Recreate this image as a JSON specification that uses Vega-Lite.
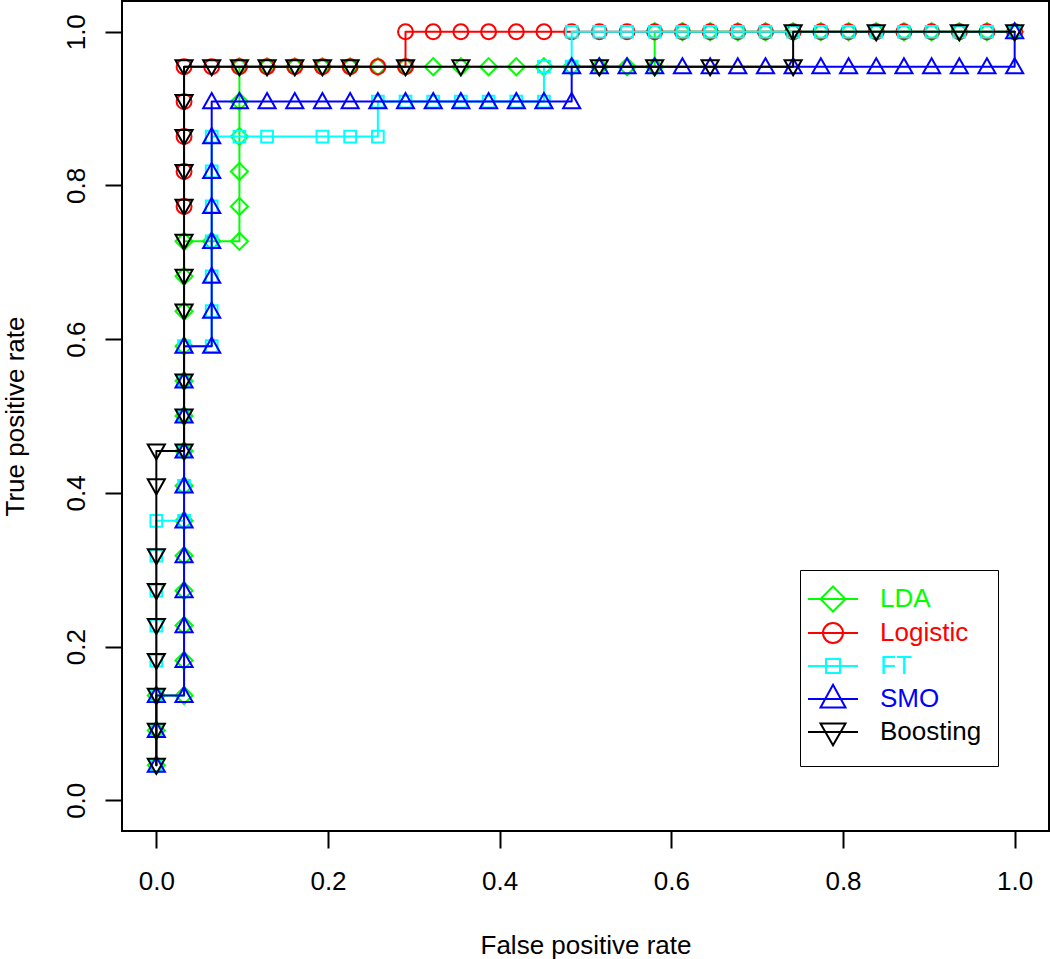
{
  "$schema": "https://vega.github.io/schema/vega-lite/v6.json",
  "width": 927,
  "height": 830,
  "autosize": {"type": "none"},
  "padding": {"left": 122, "top": 1, "right": 1, "bottom": 128},
  "background": "white",
  "config": {"view": {"stroke": "black", "strokeWidth": 2}, "font": "Liberation Sans"},
  "data": {"values": [
    {"m":"LDA","x":0,"y":0.0455},{"m":"LDA","x":0,"y":0.0909},{"m":"LDA","x":0,"y":0.1364},
    {"m":"LDA","x":0.0323,"y":0.1364},{"m":"LDA","x":0.0323,"y":0.1818},{"m":"LDA","x":0.0323,"y":0.2273},{"m":"LDA","x":0.0323,"y":0.2727},{"m":"LDA","x":0.0323,"y":0.3182},{"m":"LDA","x":0.0323,"y":0.3636},{"m":"LDA","x":0.0323,"y":0.4091},{"m":"LDA","x":0.0323,"y":0.4545},{"m":"LDA","x":0.0323,"y":0.5},{"m":"LDA","x":0.0323,"y":0.5455},{"m":"LDA","x":0.0323,"y":0.5909},{"m":"LDA","x":0.0323,"y":0.6364},{"m":"LDA","x":0.0323,"y":0.6818},{"m":"LDA","x":0.0323,"y":0.7273},
    {"m":"LDA","x":0.0645,"y":0.7273},{"m":"LDA","x":0.0968,"y":0.7273},
    {"m":"LDA","x":0.0968,"y":0.7727},{"m":"LDA","x":0.0968,"y":0.8182},{"m":"LDA","x":0.0968,"y":0.8636},{"m":"LDA","x":0.0968,"y":0.9091},{"m":"LDA","x":0.0968,"y":0.9545},
    {"m":"LDA","x":0.129,"y":0.9545},{"m":"LDA","x":0.1613,"y":0.9545},{"m":"LDA","x":0.1935,"y":0.9545},{"m":"LDA","x":0.2258,"y":0.9545},{"m":"LDA","x":0.2581,"y":0.9545},{"m":"LDA","x":0.2903,"y":0.9545},{"m":"LDA","x":0.3226,"y":0.9545},{"m":"LDA","x":0.3548,"y":0.9545},{"m":"LDA","x":0.3871,"y":0.9545},{"m":"LDA","x":0.4194,"y":0.9545},{"m":"LDA","x":0.4516,"y":0.9545},{"m":"LDA","x":0.4839,"y":0.9545},{"m":"LDA","x":0.5161,"y":0.9545},{"m":"LDA","x":0.5484,"y":0.9545},{"m":"LDA","x":0.5806,"y":0.9545},
    {"m":"LDA","x":0.5806,"y":1},{"m":"LDA","x":0.6129,"y":1},{"m":"LDA","x":0.6452,"y":1},{"m":"LDA","x":0.6774,"y":1},{"m":"LDA","x":0.7097,"y":1},{"m":"LDA","x":0.7419,"y":1},{"m":"LDA","x":0.7742,"y":1},{"m":"LDA","x":0.8065,"y":1},{"m":"LDA","x":0.8387,"y":1},{"m":"LDA","x":0.871,"y":1},{"m":"LDA","x":0.9032,"y":1},{"m":"LDA","x":0.9355,"y":1},{"m":"LDA","x":0.9677,"y":1},{"m":"LDA","x":1,"y":1},

    {"m":"Logistic","x":0.0323,"y":0.7727},{"m":"Logistic","x":0.0323,"y":0.8182},{"m":"Logistic","x":0.0323,"y":0.8636},{"m":"Logistic","x":0.0323,"y":0.9091},{"m":"Logistic","x":0.0323,"y":0.9545},
    {"m":"Logistic","x":0.0645,"y":0.9545},{"m":"Logistic","x":0.0968,"y":0.9545},{"m":"Logistic","x":0.129,"y":0.9545},{"m":"Logistic","x":0.1613,"y":0.9545},{"m":"Logistic","x":0.1935,"y":0.9545},{"m":"Logistic","x":0.2258,"y":0.9545},{"m":"Logistic","x":0.2581,"y":0.9545},{"m":"Logistic","x":0.2903,"y":0.9545},
    {"m":"Logistic","x":0.2903,"y":1},{"m":"Logistic","x":0.3226,"y":1},{"m":"Logistic","x":0.3548,"y":1},{"m":"Logistic","x":0.3871,"y":1},{"m":"Logistic","x":0.4194,"y":1},{"m":"Logistic","x":0.4516,"y":1},{"m":"Logistic","x":0.4839,"y":1},{"m":"Logistic","x":0.5161,"y":1},{"m":"Logistic","x":0.5484,"y":1},{"m":"Logistic","x":0.5806,"y":1},{"m":"Logistic","x":0.6129,"y":1},{"m":"Logistic","x":0.6452,"y":1},{"m":"Logistic","x":0.6774,"y":1},{"m":"Logistic","x":0.7097,"y":1},{"m":"Logistic","x":0.7419,"y":1},{"m":"Logistic","x":0.7742,"y":1},{"m":"Logistic","x":0.8065,"y":1},{"m":"Logistic","x":0.8387,"y":1},{"m":"Logistic","x":0.871,"y":1},{"m":"Logistic","x":0.9032,"y":1},{"m":"Logistic","x":0.9355,"y":1},{"m":"Logistic","x":0.9677,"y":1},{"m":"Logistic","x":1,"y":1},

    {"m":"FT","x":0,"y":0.0455},{"m":"FT","x":0,"y":0.0909},{"m":"FT","x":0,"y":0.1364},{"m":"FT","x":0,"y":0.1818},{"m":"FT","x":0,"y":0.2273},{"m":"FT","x":0,"y":0.2727},{"m":"FT","x":0,"y":0.3182},{"m":"FT","x":0,"y":0.3636},
    {"m":"FT","x":0.0323,"y":0.3636},{"m":"FT","x":0.0323,"y":0.4091},{"m":"FT","x":0.0323,"y":0.4545},{"m":"FT","x":0.0323,"y":0.5},{"m":"FT","x":0.0323,"y":0.5455},{"m":"FT","x":0.0323,"y":0.5909},
    {"m":"FT","x":0.0645,"y":0.5909},{"m":"FT","x":0.0645,"y":0.6364},{"m":"FT","x":0.0645,"y":0.6818},{"m":"FT","x":0.0645,"y":0.7273},{"m":"FT","x":0.0645,"y":0.7727},{"m":"FT","x":0.0645,"y":0.8182},{"m":"FT","x":0.0645,"y":0.8636},
    {"m":"FT","x":0.0968,"y":0.8636},{"m":"FT","x":0.129,"y":0.8636},{"m":"FT","x":0.1935,"y":0.8636},{"m":"FT","x":0.2258,"y":0.8636},{"m":"FT","x":0.2581,"y":0.8636},
    {"m":"FT","x":0.2581,"y":0.9091},{"m":"FT","x":0.2903,"y":0.9091},{"m":"FT","x":0.3226,"y":0.9091},{"m":"FT","x":0.3548,"y":0.9091},{"m":"FT","x":0.3871,"y":0.9091},{"m":"FT","x":0.4194,"y":0.9091},{"m":"FT","x":0.4516,"y":0.9091},
    {"m":"FT","x":0.4516,"y":0.9545},{"m":"FT","x":0.4839,"y":0.9545},
    {"m":"FT","x":0.4839,"y":1},{"m":"FT","x":0.5161,"y":1},{"m":"FT","x":0.5484,"y":1},{"m":"FT","x":0.5806,"y":1},{"m":"FT","x":0.6129,"y":1},{"m":"FT","x":0.6452,"y":1},{"m":"FT","x":0.6774,"y":1},{"m":"FT","x":0.7097,"y":1},{"m":"FT","x":0.7419,"y":1},{"m":"FT","x":0.7742,"y":1},{"m":"FT","x":0.8065,"y":1},{"m":"FT","x":0.8387,"y":1},{"m":"FT","x":0.871,"y":1},{"m":"FT","x":0.9032,"y":1},{"m":"FT","x":0.9355,"y":1},{"m":"FT","x":0.9677,"y":1},{"m":"FT","x":1,"y":1},

    {"m":"SMO","x":0,"y":0.0455},{"m":"SMO","x":0,"y":0.0909},{"m":"SMO","x":0,"y":0.1364},
    {"m":"SMO","x":0.0323,"y":0.1364},{"m":"SMO","x":0.0323,"y":0.1818},{"m":"SMO","x":0.0323,"y":0.2273},{"m":"SMO","x":0.0323,"y":0.2727},{"m":"SMO","x":0.0323,"y":0.3182},{"m":"SMO","x":0.0323,"y":0.3636},{"m":"SMO","x":0.0323,"y":0.4091},{"m":"SMO","x":0.0323,"y":0.4545},{"m":"SMO","x":0.0323,"y":0.5},{"m":"SMO","x":0.0323,"y":0.5455},{"m":"SMO","x":0.0323,"y":0.5909},
    {"m":"SMO","x":0.0645,"y":0.5909},{"m":"SMO","x":0.0645,"y":0.6364},{"m":"SMO","x":0.0645,"y":0.6818},{"m":"SMO","x":0.0645,"y":0.7273},{"m":"SMO","x":0.0645,"y":0.7727},{"m":"SMO","x":0.0645,"y":0.8182},{"m":"SMO","x":0.0645,"y":0.8636},{"m":"SMO","x":0.0645,"y":0.9091},
    {"m":"SMO","x":0.0968,"y":0.9091},{"m":"SMO","x":0.129,"y":0.9091},{"m":"SMO","x":0.1613,"y":0.9091},{"m":"SMO","x":0.1935,"y":0.9091},{"m":"SMO","x":0.2258,"y":0.9091},{"m":"SMO","x":0.2581,"y":0.9091},{"m":"SMO","x":0.2903,"y":0.9091},{"m":"SMO","x":0.3226,"y":0.9091},{"m":"SMO","x":0.3548,"y":0.9091},{"m":"SMO","x":0.3871,"y":0.9091},{"m":"SMO","x":0.4194,"y":0.9091},{"m":"SMO","x":0.4516,"y":0.9091},{"m":"SMO","x":0.4839,"y":0.9091},
    {"m":"SMO","x":0.4839,"y":0.9545},{"m":"SMO","x":0.5161,"y":0.9545},{"m":"SMO","x":0.5484,"y":0.9545},{"m":"SMO","x":0.5806,"y":0.9545},{"m":"SMO","x":0.6129,"y":0.9545},{"m":"SMO","x":0.6452,"y":0.9545},{"m":"SMO","x":0.6774,"y":0.9545},{"m":"SMO","x":0.7097,"y":0.9545},{"m":"SMO","x":0.7419,"y":0.9545},{"m":"SMO","x":0.7742,"y":0.9545},{"m":"SMO","x":0.8065,"y":0.9545},{"m":"SMO","x":0.8387,"y":0.9545},{"m":"SMO","x":0.871,"y":0.9545},{"m":"SMO","x":0.9032,"y":0.9545},{"m":"SMO","x":0.9355,"y":0.9545},{"m":"SMO","x":0.9677,"y":0.9545},{"m":"SMO","x":1,"y":0.9545},
    {"m":"SMO","x":1,"y":1},

    {"m":"Boosting","x":0,"y":0.0455},{"m":"Boosting","x":0,"y":0.0909},{"m":"Boosting","x":0,"y":0.1364},{"m":"Boosting","x":0,"y":0.1818},{"m":"Boosting","x":0,"y":0.2273},{"m":"Boosting","x":0,"y":0.2727},{"m":"Boosting","x":0,"y":0.3182},{"m":"Boosting","x":0,"y":0.4091},{"m":"Boosting","x":0,"y":0.4545},
    {"m":"Boosting","x":0.0323,"y":0.4545},{"m":"Boosting","x":0.0323,"y":0.5},{"m":"Boosting","x":0.0323,"y":0.5455},{"m":"Boosting","x":0.0323,"y":0.6364},{"m":"Boosting","x":0.0323,"y":0.6818},{"m":"Boosting","x":0.0323,"y":0.7273},{"m":"Boosting","x":0.0323,"y":0.7727},{"m":"Boosting","x":0.0323,"y":0.8182},{"m":"Boosting","x":0.0323,"y":0.8636},{"m":"Boosting","x":0.0323,"y":0.9091},{"m":"Boosting","x":0.0323,"y":0.9545},
    {"m":"Boosting","x":0.0645,"y":0.9545},{"m":"Boosting","x":0.0968,"y":0.9545},{"m":"Boosting","x":0.129,"y":0.9545},{"m":"Boosting","x":0.1613,"y":0.9545},{"m":"Boosting","x":0.1935,"y":0.9545},{"m":"Boosting","x":0.2258,"y":0.9545},{"m":"Boosting","x":0.2903,"y":0.9545},{"m":"Boosting","x":0.3548,"y":0.9545},{"m":"Boosting","x":0.5161,"y":0.9545},{"m":"Boosting","x":0.5806,"y":0.9545},{"m":"Boosting","x":0.6452,"y":0.9545},{"m":"Boosting","x":0.7419,"y":0.9545},
    {"m":"Boosting","x":0.7419,"y":1},{"m":"Boosting","x":0.8387,"y":1},{"m":"Boosting","x":0.9355,"y":1},{"m":"Boosting","x":1,"y":1}
  ]},
  "encoding": {
    "x": {"field": "x", "type": "quantitative",
      "scale": {"domain": [-0.04, 1.04], "nice": false, "zero": false},
      "axis": {"values": [0, 0.2, 0.4, 0.6, 0.8, 1], "format": ".1f", "grid": false, "domain": false,
        "tickSize": 17, "tickWidth": 2, "tickColor": "black",
        "labelFontSize": 26, "labelFont": "Liberation Sans", "labelColor": "black", "labelPadding": 20,
        "title": "False positive rate", "titleFontSize": 26, "titleFont": "Liberation Sans", "titleFontWeight": "normal", "titleColor": "black", "titlePadding": 38}},
    "y": {"field": "y", "type": "quantitative",
      "scale": {"domain": [-0.04, 1.04], "nice": false, "zero": false},
      "axis": {"values": [0, 0.2, 0.4, 0.6, 0.8, 1], "format": ".1f", "grid": false, "domain": false,
        "tickSize": 17, "tickWidth": 2, "tickColor": "black",
        "labelFontSize": 26, "labelFont": "Liberation Sans", "labelColor": "black", "labelPadding": 16,
        "labelAngle": -90, "labelAlign": "center", "labelBaseline": "bottom",
        "title": "True positive rate", "titleFontSize": 26, "titleFont": "Liberation Sans", "titleFontWeight": "normal", "titleColor": "black", "titlePadding": 35}},
    "color": {"field": "m", "type": "nominal",
      "scale": {"domain": ["LDA", "Logistic", "FT", "SMO", "Boosting"], "range": ["#00ff00", "#ff0000", "#00ffff", "#0000ff", "#000000"]},
      "legend": {"orient": "none", "legendX": 678, "legendY": 569, "title": null,
        "strokeColor": "black", "fillColor": "white", "padding": 16,
        "symbolSize": 400, "symbolStrokeWidth": 2, "symbolOpacity": 1, "symbolFillColor": "transparent",
        "symbolOffset": 4, "labelOffset": 34, "rowPadding": -5,
        "labelFontSize": 26, "labelFont": "Liberation Sans",
        "labelColor": {"expr": "datum.value === 'LDA' ? '#00ff00' : datum.value === 'Logistic' ? '#ff0000' : datum.value === 'FT' ? '#00ffff' : datum.value === 'SMO' ? '#0000ff' : '#000000'"},
        "symbolType": {"expr": "datum.value === 'LDA' ? 'M0,-1.8M0,1.2M-2.5,0H2.5M0,-1.25L1.25,0L0,1.25L-1.25,0Z' : datum.value === 'Logistic' ? 'M0,-1.8M0,1.2M-2.5,0H2.5M-1,0A1,1,0,1,1,1,0A1,1,0,1,1,-1,0Z' : datum.value === 'FT' ? 'M0,-1.8M0,1.2M-2.5,0H2.5M-0.7,-0.7H0.7V0.7H-0.7Z' : datum.value === 'SMO' ? 'M0,-1.8M0,1.2M-2.5,0H2.5M0,-1.43L1.25,0.84L-1.25,0.84Z' : 'M0,-1.8M0,1.2M-2.5,0H2.5M0,1.33L1.25,-0.84L-1.25,-0.84Z'"}
      }}
  },
  "layer": [
    {"transform": [{"filter": {"field": "m", "equal": "LDA"}}],
     "layer": [
       {"mark": {"type": "line", "strokeWidth": 2, "strokeCap": "round", "strokeJoin": "round"},
        "encoding": {"order": [{"field": "x", "type": "quantitative"}, {"field": "y", "type": "quantitative"}]}},
       {"mark": {"type": "point", "filled": false, "strokeWidth": 2, "size": 324, "opacity": 1, "shape": "M0,-0.95L0.95,0L0,0.95L-0.95,0Z"}}
     ]},
    {"transform": [{"filter": {"field": "m", "equal": "Logistic"}}],
     "layer": [
       {"mark": {"type": "line", "strokeWidth": 2, "strokeCap": "round", "strokeJoin": "round"},
        "encoding": {"order": [{"field": "x", "type": "quantitative"}, {"field": "y", "type": "quantitative"}]}},
       {"mark": {"type": "point", "filled": false, "strokeWidth": 2, "size": 324, "opacity": 1, "shape": "M-0.83,0A0.83,0.83,0,1,1,0.83,0A0.83,0.83,0,1,1,-0.83,0Z"}}
     ]},
    {"transform": [{"filter": {"field": "m", "equal": "FT"}}],
     "layer": [
       {"mark": {"type": "line", "strokeWidth": 2, "strokeCap": "round", "strokeJoin": "round"},
        "encoding": {"order": [{"field": "x", "type": "quantitative"}, {"field": "y", "type": "quantitative"}]}},
       {"mark": {"type": "point", "filled": false, "strokeWidth": 2, "size": 324, "opacity": 1, "shape": "M-0.65,-0.65H0.65V0.65H-0.65Z"}}
     ]},
    {"transform": [{"filter": {"field": "m", "equal": "SMO"}}],
     "layer": [
       {"mark": {"type": "line", "strokeWidth": 2, "strokeCap": "round", "strokeJoin": "round"},
        "encoding": {"order": [{"field": "x", "type": "quantitative"}, {"field": "y", "type": "quantitative"}]}},
       {"mark": {"type": "point", "filled": false, "strokeWidth": 2, "size": 324, "opacity": 1, "shape": "M0,-0.95L0.95,0.73L-0.95,0.73Z"}}
     ]},
    {"transform": [{"filter": {"field": "m", "equal": "Boosting"}}],
     "layer": [
       {"mark": {"type": "line", "strokeWidth": 2, "strokeCap": "round", "strokeJoin": "round"},
        "encoding": {"order": [{"field": "x", "type": "quantitative"}, {"field": "y", "type": "quantitative"}]}},
       {"mark": {"type": "point", "filled": false, "strokeWidth": 2, "size": 324, "opacity": 1, "shape": "M0,0.95L0.95,-0.73L-0.95,-0.73Z"}}
     ]}
  ]
}
